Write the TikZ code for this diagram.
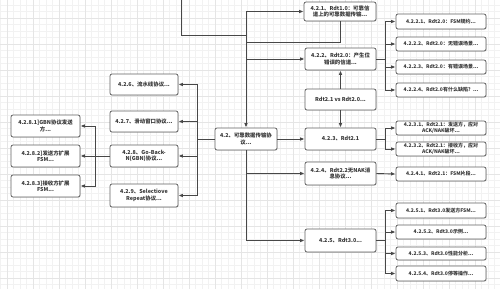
\documentclass[tikz,border=0pt]{standalone}
\usepackage{fontspec}
\setmainfont{Noto Sans CJK SC}
\usetikzlibrary{arrows.meta,shadows}
\newcommand\mybox[6]{\node[box, minimum width={#4-#2}, minimum height={#5-#3}] (#1) at ({(#2+#4)/2},{(#3+#5)/2}) {#6};}
\newcommand\myboxs[6]{\node[box, smalltext, minimum width={#4-#2}, minimum height={#5-#3}] (#1) at ({(#2+#4)/2},{(#3+#5)/2}) {#6};}
\begin{document}
\begin{tikzpicture}[x=1pt,y=-1pt,
  box/.style={draw=black!62, line width=0.75pt, rounded corners=2pt, fill=white, align=center,
    font=\fontsize{5.4}{6.6}\selectfont\bfseries, text=black!78, inner sep=0pt,
    drop shadow={opacity=0.18, shadow xshift=0.8pt, shadow yshift=-0.8pt}},
  smalltext/.style={font=\fontsize{5.0}{6.2}\selectfont\bfseries},
  conn/.style={draw=black!72, line width=0.9pt},
  arr/.style={conn, -{Latex[length=4.5pt,width=3.6pt]}},
  minorgrid/.style={draw=black!5, line width=0.4pt},
  majorgrid/.style={draw=black!10, line width=0.5pt}]
\useasboundingbox (0,0) rectangle (500,289);
\fill[white] (0,0) rectangle (500,289);
\begin{scope}
\clip (0,0) rectangle (500,289);
\foreach \k in {-2,...,76} {\pgfmathsetmacro\xx{7+6.5*\k}\draw[minorgrid] (\xx,0) -- (\xx,289);}
\foreach \k in {-3,...,42} {\pgfmathsetmacro\yy{18+6.5*\k}\draw[minorgrid] (0,\yy) -- (500,\yy);}
\foreach \k in {-1,...,19} {\pgfmathsetmacro\xx{7+26*\k}\draw[majorgrid] (\xx,0) -- (\xx,289);}
\foreach \k in {-1,...,11} {\pgfmathsetmacro\yy{18+26*\k}\draw[majorgrid] (0,\yy) -- (500,\yy);}
\end{scope}

% centre
\mybox{n42}{215}{128}{277}{150}{4.2、可靠数据传输协\\议...}
% right column
\mybox{n421}{304}{2}{376}{21}{4.2.1、Rdt1.0：可靠信\\道上的可靠数据传输...}
\mybox{n422}{305}{48}{376}{70}{4.2.2、Rdt2.0：产生位\\错误的信道...}
\mybox{nvs}{305}{89}{376}{110}{Rdt2.1 vs Rdt2.0...}
\mybox{n423}{305}{128}{376}{150}{4.2.3、Rdt2.1}
\mybox{n424}{305}{162}{376}{185}{4.2.4、Rdt2.2无NAK消\\息协议...}
\mybox{n425}{305}{229}{376}{252}{4.2.5、Rdt3.0...}
% left column
\mybox{n426}{110}{74}{178}{95}{4.2.6、流水线协议...}
\mybox{n427}{110}{111}{178}{132}{4.2.7、滑动窗口协议...}
\mybox{n428}{110}{145}{178}{167}{4.2.8、Go-Back-\\N(GBN)协议...}
\mybox{n429}{110}{184}{178}{207}{4.2.9、Selectiove\\Repeat协议...}
\mybox{n4281}{11}{115}{80}{137}{4.2.8.1]GBN协议发送\\方...}
\mybox{n4282}{11}{145}{80}{167}{4.2.8.2]发送方扩展\\FSM...}
\mybox{n4283}{11}{175}{80}{197}{4.2.8.3]接收方扩展\\FSM...}
% far right
\myboxs{n4221}{396}{14}{486}{29}{4.2.2.1、Rdt2.0：FSM规约...}
\myboxs{n4222}{396}{37}{486}{51}{4.2.2.2、Rdt2.0：无错误场景...}
\myboxs{n4223}{396}{60}{486}{74}{4.2.2.3、Rdt2.0：有错误场景...}
\myboxs{n4224}{396}{83}{486}{97}{4.2.2.4、Rdt2.0有什么缺陷？...}
\myboxs{n4231}{396}{121}{486}{135}{4.2.3.1、Rdt2.1：发送方，应对\\ACK/NAK破坏...}
\myboxs{n4232}{396}{142}{486}{156}{4.2.3.2、Rdt2.1：接收方，应对\\ACK/NAK破坏...}
\myboxs{n4241}{396}{167}{486}{181}{4.2.4.1、Rdt2.1：FSM片段...}
\myboxs{n4251}{396}{203}{486}{218}{4.2.5.1、Rdt3.0发送方FSM...}
\myboxs{n4252}{396}{225}{486}{239}{4.2.5.2、Rdt3.0示例...}
\myboxs{n4253}{396}{247}{486}{260}{4.2.5.3、Rdt3.0性能分析...}
\myboxs{n4254}{396}{266}{486}{281}{4.2.5.4、Rdt3.0停等操作...}

% junctions
\coordinate (top) at (181,0);
\coordinate (j1) at (246,35);
\coordinate (j2) at (246,42);
\coordinate (b1) at (197,139);
\coordinate (b2) at (95,156);
\coordinate (b3) at (385,59);
\coordinate (b4) at (385,139);
\coordinate (b5) at (385,240.5);

% connectors
\draw[arr] (top) |- (j1) -- (n42.north);
\draw[arr] (j1) |- (n421.west);
\draw[conn] (n421.south) |- (j2);
\draw[arr] (j1) |- (n422.west);
\draw[arr] (nvs.north) -- (n422.south);
\draw[arr] (nvs.south) -- (n423.north);
\draw[arr] (n42.east) -- (n423.west);
\draw[arr] (n42.south) |- (n424.west);
\draw[arr] (n42.south) |- (n425.west);

\draw[conn] (n42.west) -- (b1);
\foreach \t in {n426,n427,n428,n429} \draw[arr] (b1) |- (\t.east);
\draw[conn] (n428.west) -- (b2);
\foreach \t in {n4281,n4282,n4283} \draw[arr] (b2) |- (\t.east);

\draw[conn] (n422.east) -- (b3);
\foreach \t in {n4221,n4222,n4223,n4224} \draw[arr] (b3) |- (\t.west);
\draw[conn] (n423.east) -- (b4);
\foreach \t in {n4231,n4232} \draw[arr] (b4) |- (\t.west);
\draw[arr] (n424.east) -- (n4241.west);
\draw[conn] (n425.east) -- (b5);
\foreach \t in {n4251,n4252,n4253,n4254} \draw[arr] (b5) |- (\t.west);
\end{tikzpicture}
\end{document}
